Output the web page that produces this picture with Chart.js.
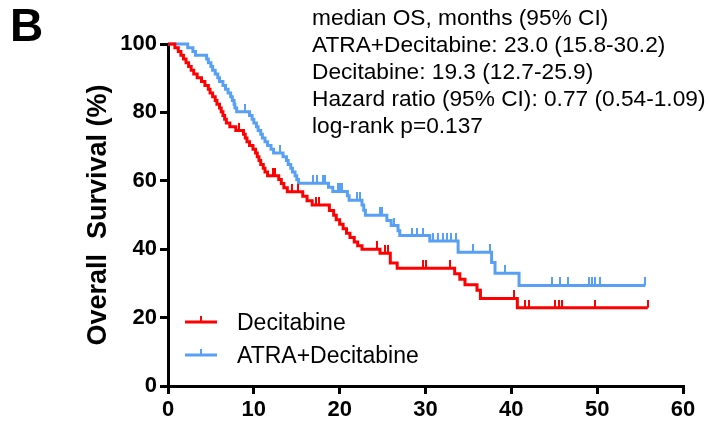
<!DOCTYPE html>
<html>
<head>
<meta charset="utf-8">
<script src="https://cdn.jsdelivr.net/npm/chart.js@4"></script>
<style>
html,body{margin:0;padding:0;background:#fff}
#wrap{position:relative;width:711px;height:430px;font-family:"Liberation Sans",Arial,sans-serif;color:#000;overflow:hidden}
#c{position:absolute;left:0;top:0}
.txt{position:absolute;white-space:nowrap}
#panel{left:10px;top:2px;font-size:46px;line-height:46px;font-weight:bold}
#stats{left:312px;top:4px;font-size:22.7px;line-height:27px}
#ytitle{left:-53px;top:200px;width:300px;text-align:center;font-size:27px;line-height:30px;font-weight:bold;transform:rotate(-90deg)}
.leg{position:absolute;left:185px;height:30px;line-height:30px;font-size:23px;white-space:nowrap}
.leg svg{vertical-align:top;margin-right:20px}
</style>
</head>
<body>
<div id="wrap">
  <canvas id="c" width="711" height="430"></canvas>
  <div id="panel" class="txt">B</div>
  <div id="stats" class="txt">median OS, months (95% CI)<br>ATRA+Decitabine: 23.0 (15.8-30.2)<br>Decitabine: 19.3 (12.7-25.9)<br>Hazard ratio (95% CI): 0.77 (0.54-1.09)<br>log-rank p=0.137</div>
  <div id="ytitle" class="txt">Overall&nbsp; Survival (%)</div>
  <div class="leg" style="top:307px"><svg width="32" height="30"><line x1="0" y1="15" x2="32" y2="15" stroke="#ff0000" stroke-width="3"/><line x1="16" y1="9" x2="16" y2="15" stroke="#ff0000" stroke-width="2"/></svg>Decitabine</div>
  <div class="leg" style="top:340px"><svg width="32" height="30"><line x1="0" y1="15" x2="32" y2="15" stroke="#58a0f5" stroke-width="3"/><line x1="16" y1="9" x2="16" y2="15" stroke="#58a0f5" stroke-width="2"/></svg>ATRA+Decitabine</div>
</div>
<script>
// axis ticks
const xTicks = [0, 10, 20, 30, 40, 50, 60];
const yTicks = [0, 20, 40, 60, 80, 100];

// Decitabine: event times (months) and survival (%) after each drop
const decTimes = [0.8,1.2,1.5,1.8,2.1,2.4,2.7,3.0,3.4,3.9,4.3,4.7,4.9,5.2,5.5,5.7,6.0,6.2,6.4,6.6,6.8,7.2,7.9,
  8.8,9.0,9.2,9.5,9.9,10.2,10.4,10.6,10.8,11.1,11.3,11.6,12.9,13.2,13.5,13.9,15.7,16.2,16.8,18.8,19.3,19.6,
  20.0,20.4,20.8,21.2,21.7,22.1,22.6,24.7,25.9,26.7,33.4,34.0,34.6,36.0,36.4,40.7];
const decSurv = [98.9,97.8,96.7,95.6,94.5,93.4,92.3,91.2,90.1,89.0,87.9,86.8,85.7,84.6,83.5,82.4,81.3,80.2,79.1,78.0,76.9,75.8,74.7,
  73.6,72.5,71.4,70.3,69.2,68.1,67.0,65.9,64.8,63.7,62.6,61.5,60.4,59.2,58.0,56.8,55.5,54.2,52.9,51.3,49.9,48.6,
  47.3,46.0,44.7,43.4,42.1,41.0,40.0,38.8,36.0,34.4,32.8,31.2,29.6,28.0,25.6,22.9];
const decCensor = [8.3,12.2,12.5,14.5,15.2,17.3,17.6,24.3,25.3,25.6,29.7,30.0,32.9,40.3,41.6,42.0,45.1,45.5,45.9,49.8,55.9];

// ATRA+Decitabine
const atraTimes = [2.3,2.9,3.2,4.5,4.7,5.0,5.2,5.5,5.8,6.0,6.4,6.7,7.0,7.3,7.5,7.7,7.8,8.0,9.5,9.8,10.0,10.3,10.5,
  10.8,11.0,11.3,11.6,12.0,12.3,13.4,13.8,14.0,14.3,14.5,14.8,15.0,15.2,18.7,19.2,20.9,21.1,22.6,22.8,23.0,
  25.5,26.0,26.8,27.0,30.5,33.8,37.7,38.1,40.9];
const atraSurv = [98.9,97.8,96.7,95.6,94.5,93.4,92.3,91.2,90.1,89.0,87.9,86.8,85.7,84.6,83.5,82.4,81.3,80.2,79.1,78.0,76.9,75.8,74.7,
  73.6,72.5,71.4,70.3,69.2,68.1,67.0,65.9,64.8,63.7,62.6,61.5,60.4,59.3,58.1,56.9,55.6,54.3,52.9,51.4,49.9,
  48.4,46.9,45.4,44.0,42.4,39.1,36.1,33.0,29.4];
const atraCensor = [9.0,13.0,16.9,17.4,18.1,18.3,19.8,20.0,20.3,22.0,22.4,24.7,24.9,26.3,28.4,29.0,29.7,30.9,31.5,32.0,
  32.5,33.0,33.6,35.5,37.5,39.3,44.7,45.7,46.6,49.0,49.4,49.8,50.3,55.6];

const RED = '#ff0000', BLUE = '#58a0f5';

// step curve points from the event lists, run out to the last censored patient
function kmPoints(times, surv, censor){
  const pts = [{x:0, y:100}];
  times.forEach((t,i) => pts.push({x:t, y:surv[i]}));
  pts.push({x:Math.max(...censor), y:surv[surv.length-1]});
  return pts;
}
function survAt(times, surv, t){
  let s = 100;
  for (let i=0;i<times.length;i++) if (times[i] <= t) s = surv[i];
  return s;
}
function censorPoints(times, surv, censor){
  return censor.map(t => ({x:t, y:survAt(times, surv, t)}));
}
// small upward tick used as point style for censored marks
function tickImg(color){
  const c = document.createElement('canvas');
  c.width = 2; c.height = 16;
  const g = c.getContext('2d');
  g.fillStyle = color;
  g.fillRect(0, 0, 2, 8);
  return c;
}

const lineDs = (pts, color) => ({
  type:'line', data:pts, borderColor:color, borderWidth:3, stepped:'before',
  pointRadius:0, fill:false, clip:false, borderJoinStyle:'miter'
});
const censorDs = (pts, color) => ({
  type:'scatter', data:pts, pointStyle:tickImg(color), pointRadius:3,
  borderColor:color, backgroundColor:color, clip:false
});

const axisStyle = {
  border:{color:'#000', width:3},
  grid:{drawOnChartArea:false, color:'#000', lineWidth:3, tickLength:8},
  ticks:{color:'#000', padding:3, font:{family:'"Liberation Sans", Arial', size:22, weight:'bold'}}
};

new Chart(document.getElementById('c'), {
  type:'line',
  data:{
    datasets:[
      censorDs(censorPoints(decTimes, decSurv, decCensor), RED),
      lineDs(kmPoints(decTimes, decSurv, decCensor), RED),
      censorDs(censorPoints(atraTimes, atraSurv, atraCensor), BLUE),
      lineDs(kmPoints(atraTimes, atraSurv, atraCensor), BLUE)
    ]
  },
  options:{
    responsive:false,
    animation:false,
    layout:{padding:{top:44, right:28, left:0, bottom:0}},
    plugins:{legend:{display:false}, tooltip:{enabled:false}},
    scales:{
      x:{
        type:'linear', min:0, max:60, ...axisStyle,
        afterBuildTicks:s => { s.ticks = xTicks.map(v => ({value:v})); },
        afterFit:s => { s.height = 44; }
      },
      y:{
        type:'linear', min:0, max:100, ...axisStyle,
        afterBuildTicks:s => { s.ticks = yTicks.map(v => ({value:v})); },
        afterFit:s => { s.width = 168; }
      }
    }
  }
});
</script>
</body>
</html>
